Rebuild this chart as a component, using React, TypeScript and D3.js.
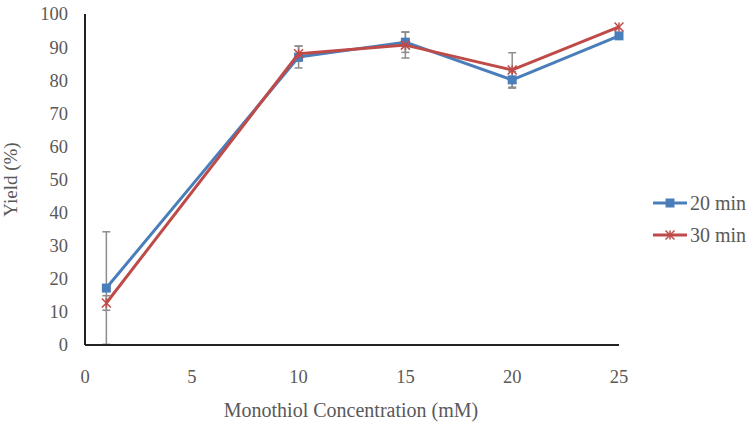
import { line, scaleLinear } from 'd3'

const width = 754
const height = 429
const margin = { top: 14, right: 135, bottom: 84, left: 85 }

const concentrations = [1, 10, 15, 20, 25]
const yield20 = [17.2, 87.0, 91.5, 80.1, 93.4]
const yield30 = [12.7, 88.0, 90.6, 83.1, 96.1]
const err20 = [17.0, 3.3, 3.1, 2.5, 0]
const err30 = [2.2, 2.3, 3.9, 5.2, 0]
const xTicks = [0, 5, 10, 15, 20, 25]
const yTicks = [0, 10, 20, 30, 40, 50, 60, 70, 80, 90, 100]

const series = [
  { name: '20 min', values: yield20, errors: err20, color: '#4A7EBB', marker: 'square' },
  { name: '30 min', values: yield30, errors: err30, color: '#BE4B48', marker: 'star' },
]

const textColor = '#595959'
const font = "'Times New Roman', 'Liberation Serif', 'DejaVu Serif', serif"

function Marker({ type, x, y, color }: { type: string; x: number; y: number; color: string }) {
  if (type === 'square') {
    return <rect x={x - 4.5} y={y - 4.5} width={9} height={9} fill={color} />
  }
  const r = 4.5
  return (
    <g stroke={color} strokeWidth={1.5}>
      <line x1={x - r} y1={y - r} x2={x + r} y2={y + r} />
      <line x1={x - r} y1={y + r} x2={x + r} y2={y - r} />
      <line x1={x} y1={y - r} x2={x} y2={y + r} />
    </g>
  )
}

export default function App() {
  const innerWidth = width - margin.left - margin.right
  const innerHeight = height - margin.top - margin.bottom
  const xScale = scaleLinear().domain([0, 25]).range([0, innerWidth])
  const yScale = scaleLinear().domain([0, 100]).range([innerHeight, 0])

  const path = line<number>()
    .x((_, i) => xScale(concentrations[i]))
    .y((d) => yScale(d))

  return (
    <svg width={width} height={height} style={{ position: 'absolute', left: 0, top: 0, fontFamily: font }}>
      <rect width={width} height={height} fill="white" />
      <g transform={`translate(${margin.left},${margin.top})`}>
        {yTicks.map((t) => (
          <text key={t} x={-17} y={yScale(t)} dy=".35em" textAnchor="end" fontSize={18.5} fill={textColor}>
            {t}
          </text>
        ))}
        {xTicks.map((t) => (
          <text key={t} x={xScale(t)} y={innerHeight + 38} textAnchor="middle" fontSize={18.5} fill={textColor}>
            {t}
          </text>
        ))}
        {series.map((s) =>
          s.values.map((v, i) =>
            s.errors[i] > 0 ? (
              <g key={s.name + i} stroke="#8C8C8C" strokeWidth={1.5}>
                <line
                  x1={xScale(concentrations[i])}
                  x2={xScale(concentrations[i])}
                  y1={yScale(Math.max(0, v - s.errors[i]))}
                  y2={yScale(v + s.errors[i])}
                />
                <line
                  x1={xScale(concentrations[i]) - 4}
                  x2={xScale(concentrations[i]) + 4}
                  y1={yScale(Math.max(0, v - s.errors[i]))}
                  y2={yScale(Math.max(0, v - s.errors[i]))}
                />
                <line
                  x1={xScale(concentrations[i]) - 4}
                  x2={xScale(concentrations[i]) + 4}
                  y1={yScale(v + s.errors[i])}
                  y2={yScale(v + s.errors[i])}
                />
              </g>
            ) : null
          )
        )}
        {series.map((s) => (
          <g key={s.name}>
            <path d={path(s.values) ?? ''} fill="none" stroke={s.color} strokeWidth={3} strokeLinejoin="round" />
            {s.values.map((v, i) => (
              <Marker key={i} type={s.marker} x={xScale(concentrations[i])} y={yScale(v)} color={s.color} />
            ))}
          </g>
        ))}
        <line x1={0} x2={0} y1={0} y2={innerHeight} stroke="#222" strokeWidth={2} />
        <line x1={0} x2={innerWidth} y1={innerHeight} y2={innerHeight} stroke="#222" strokeWidth={2} />
      </g>
      <text
        transform={`translate(17,${margin.top + innerHeight / 2}) rotate(-90)`}
        textAnchor="middle"
        fontSize={19}
        fill={textColor}
      >
        Yield (%)
      </text>
      <text x={margin.left + innerWidth / 2 - 1} y={417} textAnchor="middle" fontSize={20} fill={textColor}>
        Monothiol Concentration (mM)
      </text>
      {series.map((s, i) => {
        const y = 203 + i * 32
        return (
          <g key={s.name}>
            <line x1={653} x2={687} y1={y} y2={y} stroke={s.color} strokeWidth={3} />
            <Marker type={s.marker} x={670} y={y} color={s.color} />
            <text x={690} y={y} dy=".35em" fontSize={20} fill={textColor}>
              {s.name}
            </text>
          </g>
        )
      })}
    </svg>
  )
}
